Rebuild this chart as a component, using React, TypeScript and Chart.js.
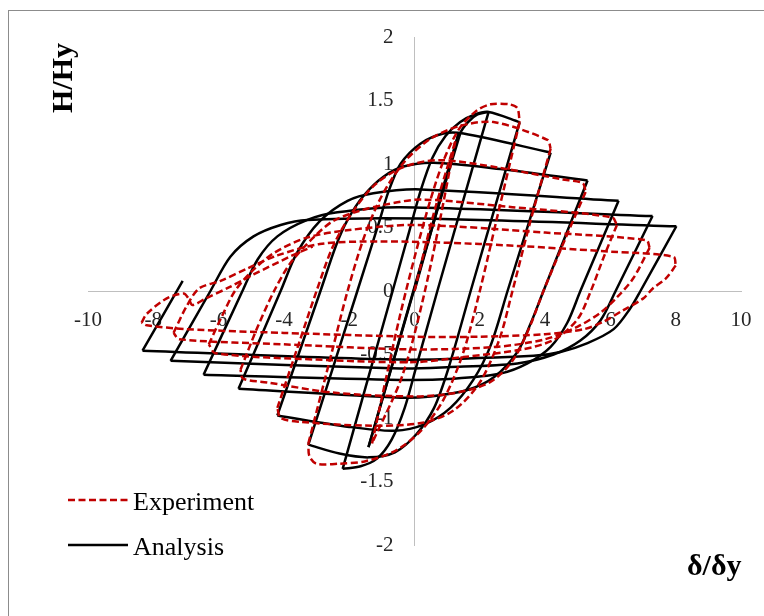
import React, { useEffect, useRef } from "react";
import { Chart, registerables } from "chart.js";

Chart.register(...registerables);

// ---- axis ticks ----
const xTickValues = [-10, -8, -6, -4, -2, 0, 2, 4, 6, 8, 10];
const xTickLabels = ["-10", "-8", "-6", "-4", "-2", "0", "2", "4", "6", "8", "10"];
const yTickValues = [-2, -1.5, -1, -0.5, 0, 0.5, 1, 1.5, 2];
const yTickLabels = ["-2", "-1.5", "-1", "-0.5", "0", "0.5", "1", "1.5", "2"];

const seriesNames = ["Experiment", "Analysis"];
const xTitle = "δ/δy";
const yTitle = "H/Hy";

// ---- Experiment (dashed red) : half-cycles, [δ/δy, H/Hy] ----
const experimentHalfCycles: [number, number][][] = [
  [[0, 0], [0.6, 0.62], [1.25, 1.18]],
  [[1.25, 1.18], [0.45, 0.15], [-0.35, -0.65], [-1.3, -1.2]],
  [[-1.3, -1.2], [-0.45, -0.2], [0.3, 0.55], [0.85, 1.0], [1.35, 1.27], [1.9, 1.42], [2.33, 1.47], [2.9, 1.47], [3.15, 1.44], [3.22, 1.33]],
  [[3.22, 1.33], [2.55, 0.6], [2.0, 0], [1.5, -0.48], [0.9, -0.85], [0.2, -1.1], [-0.6, -1.26], [-1.5, -1.34], [-2.3, -1.36], [-3.0, -1.36], [-3.22, -1.3], [-3.25, -1.2]],
  [[-3.25, -1.2], [-2.5, -0.45], [-2.05, 0], [-1.55, 0.42], [-1.0, 0.75], [-0.3, 1.02], [0.5, 1.2], [1.4, 1.3], [2.42, 1.33], [4.07, 1.19], [4.17, 1.12]],
  [[4.17, 1.12], [3.55, 0.55], [3.0, 0], [2.6, -0.38], [2.0, -0.72], [1.2, -0.94], [0.2, -1.04], [-1.5, -1.06], [-3.5, -1.03], [-4.1, -1.0], [-4.2, -0.92]],
  [[-4.2, -0.92], [-3.55, -0.42], [-3.0, 0], [-2.5, 0.35], [-1.9, 0.62], [-1.2, 0.84], [-0.3, 0.98], [0.8, 1.03], [2.6, 0.97], [4.5, 0.88], [5.15, 0.85], [5.24, 0.78]],
  [[5.24, 0.78], [4.6, 0.4], [3.95, 0], [3.5, -0.3], [3.0, -0.55], [2.3, -0.72], [1.3, -0.8], [0, -0.83], [-2.5, -0.8], [-4.5, -0.72], [-5.25, -0.69], [-5.33, -0.62]],
  [[-5.33, -0.62], [-4.8, -0.28], [-4.3, 0], [-3.8, 0.22], [-3.1, 0.42], [-2.5, 0.55], [-1.7, 0.63], [-0.9, 0.68], [0.2, 0.72], [3, 0.66], [6.05, 0.58], [6.2, 0.52]],
  [[6.2, 0.52], [5.8, 0.27], [5.4, 0], [5.0, -0.22], [4.3, -0.38], [3.3, -0.46], [1.5, -0.52], [0, -0.56], [-3, -0.54], [-6.1, -0.49], [-6.3, -0.42]],
  [[-6.3, -0.42], [-5.9, -0.2], [-5.5, 0], [-5.0, 0.15], [-4.3, 0.3], [-3.3, 0.42], [-2, 0.48], [0, 0.52], [4, 0.46], [7.1, 0.4], [7.2, 0.34]],
  [[7.2, 0.34], [6.7, 0.1], [6.2, -0.05], [5.7, -0.17], [5.0, -0.28], [4.0, -0.38], [2.5, -0.44], [0, -0.46], [-4, -0.42], [-7.2, -0.38], [-7.38, -0.33]],
  [[-7.38, -0.33], [-7.0, -0.13], [-6.6, 0.02], [-5.94, 0.08], [-5.1, 0.18], [-4.2, 0.28], [-2.9, 0.37], [-1.0, 0.39], [2, 0.37], [6, 0.31], [7.93, 0.27], [8.0, 0.2]],
  [[8.0, 0.2], [7.7, 0.1], [7.3, 0.02], [7.0, -0.06], [6.4, -0.15], [5.8, -0.24], [5.2, -0.3], [4.0, -0.34], [2.0, -0.36], [0, -0.36], [-4, -0.33], [-7.0, -0.3], [-8.2, -0.27], [-8.36, -0.25]],
  [[-8.36, -0.25], [-8.2, -0.18], [-7.6, -0.06], [-7.07, -0.02], [-6.92, -0.06], [-6.8, -0.11], [-6.4, -0.06], [-5.67, 0.03], [-4.93, 0.13], [-3.74, 0.28], [-3.12, 0.35]],
];

// ---- Analysis (solid black) : half-cycles, [δ/δy, H/Hy] ----
const analysisHalfCycles: [number, number][][] = [
  [[0, 0], [1.35, 1.24]],
  [[1.35, 1.24], [-1.41, -1.23]],
  [[-1.41, -1.23], [1.4, 1.24], [1.64, 1.33], [1.93, 1.39], [2.27, 1.41]],
  [[2.27, 1.41], [0.7, 0], [0.05, -0.6], [-0.3, -0.92], [-0.7, -1.17], [-1.15, -1.32], [-1.65, -1.38], [-2.2, -1.4]],
  [[-2.2, -1.4], [-0.67, 0], [-0.15, 0.48], [0.2, 0.8], [0.55, 1.05], [0.95, 1.22], [1.4, 1.33], [1.85, 1.39], [2.27, 1.41], [3.22, 1.33]],
  [[3.22, 1.33], [1.72, 0], [1.05, -0.6], [0.6, -0.92], [0.05, -1.13], [-0.6, -1.27], [-1.4, -1.31], [-2.3, -1.28], [-3.25, -1.21]],
  [[-3.25, -1.21], [-1.75, 0], [-1.1, 0.53], [-0.8, 0.78], [-0.43, 1.0], [0.18, 1.16], [0.89, 1.24], [1.5, 1.24], [4.17, 1.09]],
  [[4.17, 1.09], [2.85, 0], [2.33, -0.43], [1.8, -0.7], [1.1, -0.92], [0.3, -1.05], [-0.6, -1.1], [-2.0, -1.07], [-4.2, -0.98]],
  [[-4.2, -0.98], [-2.88, 0], [-2.4, 0.36], [-2.05, 0.56], [-1.56, 0.75], [-0.95, 0.9], [-0.34, 0.98], [0.58, 1.01], [2.63, 0.96], [5.3, 0.87]],
  [[5.3, 0.87], [3.95, 0], [3.55, -0.26], [3.15, -0.48], [2.43, -0.68], [1.62, -0.78], [0.5, -0.83], [-0.43, -0.84], [-5.39, -0.77]],
  [[-5.39, -0.77], [-4.1, 0], [-3.6, 0.3], [-2.9, 0.55], [-2.05, 0.71], [-1.26, 0.77], [0.18, 0.8], [6.25, 0.71]],
  [[6.25, 0.71], [5.08, 0], [4.68, -0.25], [4.17, -0.44], [3.46, -0.57], [2.63, -0.65], [1.2, -0.69], [-0.43, -0.7], [-6.46, -0.66]],
  [[-6.46, -0.66], [-5.27, 0], [-4.8, 0.25], [-4.2, 0.43], [-3.28, 0.56], [-2.36, 0.62], [-0.43, 0.66], [7.29, 0.59]],
  [[7.29, 0.59], [6.16, 0], [5.7, -0.23], [5.08, -0.39], [4.26, -0.5], [3.15, -0.57], [1.0, -0.6], [-0.43, -0.61], [-7.47, -0.55]],
  [[-7.47, -0.55], [-6.25, 0], [-5.64, 0.27], [-4.93, 0.43], [-4.1, 0.52], [-3.28, 0.56], [0.18, 0.57], [8.02, 0.51]],
  [[8.02, 0.51], [6.92, 0], [6.6, -0.14], [6.1, -0.3], [5.3, -0.41], [4.47, -0.48], [3.65, -0.51], [-0.43, -0.54], [-8.33, -0.47]],
  [[-8.33, -0.47], [-7.1, 0.08]],
];

const RED = "#c00000";
const BLACK = "#000000";
const SERIF = '"Liberation Serif", "Times New Roman", serif';

const overlayPlugin = {
  id: "overlayTexts",
  afterDraw(chart: any) {
    const ctx: CanvasRenderingContext2D = chart.ctx;
    ctx.save();
    // legend
    ctx.lineWidth = 2.5;
    ctx.strokeStyle = RED;
    ctx.setLineDash([7, 3.5]);
    ctx.beginPath();
    ctx.moveTo(59, 489);
    ctx.lineTo(119, 489);
    ctx.stroke();
    ctx.setLineDash([]);
    ctx.strokeStyle = BLACK;
    ctx.beginPath();
    ctx.moveTo(59, 534);
    ctx.lineTo(119, 534);
    ctx.stroke();
    ctx.fillStyle = "#000";
    ctx.font = `26px ${SERIF}`;
    ctx.textAlign = "left";
    ctx.textBaseline = "alphabetic";
    ctx.fillText(seriesNames[0], 124, 499);
    ctx.fillText(seriesNames[1], 124, 544);
    // axis titles
    ctx.font = `bold 30px ${SERIF}`;
    ctx.fillText(xTitle, 678, 564);
    ctx.translate(63, 67);
    ctx.rotate(-Math.PI / 2);
    ctx.textAlign = "center";
    ctx.fillText(yTitle, 0, 0);
    ctx.restore();
  },
};

export default function App() {
  const ref = useRef<HTMLCanvasElement>(null);
  useEffect(() => {
    if (!ref.current) return;
    const datasets: any[] = [];
    experimentHalfCycles.forEach((seg) =>
      datasets.push({
        label: seriesNames[0],
        data: seg.map(([x, y]) => ({ x, y })),
        borderColor: RED,
        backgroundColor: RED,
        borderWidth: 2.5,
        borderDash: [7, 3.5],
        showLine: true,
        pointRadius: 0,
        tension: 0.3,
        fill: false,
      })
    );
    analysisHalfCycles.forEach((seg) =>
      datasets.push({
        label: seriesNames[1],
        data: seg.map(([x, y]) => ({ x, y })),
        borderColor: BLACK,
        backgroundColor: BLACK,
        borderWidth: 2.5,
        showLine: true,
        pointRadius: 0,
        tension: 0.3,
        fill: false,
      })
    );
    const tickFont = { family: SERIF, size: 21 };
    const chart = new Chart(ref.current, {
      type: "scatter",
      data: { datasets },
      options: {
        animation: false,
        responsive: false,
        layout: { padding: { left: 79, right: 38, top: 26, bottom: 86 } },
        plugins: { legend: { display: false }, tooltip: { enabled: false } },
        scales: {
          x: {
            type: "linear",
            position: "center",
            min: -10,
            max: 10,
            grid: { display: false },
            border: { display: true, color: "#bfbfbf", width: 1 },
            afterBuildTicks: (s: any) => {
              s.ticks = xTickValues.map((v) => ({ value: v }));
            },
            afterFit: (s: any) => {
              s.height = 0;
            },
            ticks: {
              padding: 9,
              font: tickFont,
              color: "#262626",
              maxRotation: 0,
              autoSkip: false,
              callback: (v: any) => xTickLabels[xTickValues.indexOf(Number(v))],
            },
          },
          y: {
            type: "linear",
            position: "center",
            min: -2,
            max: 2,
            grid: { display: false },
            border: { display: true, color: "#bfbfbf", width: 1 },
            afterBuildTicks: (s: any) => {
              s.ticks = yTickValues.map((v) => ({ value: v }));
            },
            afterFit: (s: any) => {
              s.width = 0;
            },
            ticks: {
              padding: 13,
              font: tickFont,
              color: "#262626",
              autoSkip: false,
              callback: (v: any) => yTickLabels[yTickValues.indexOf(Number(v))],
            },
          },
        },
      } as any,
      plugins: [overlayPlugin],
    });
    return () => chart.destroy();
  }, []);
  return (
    <div
      style={{
        position: "fixed",
        left: 8,
        top: 10,
        width: 770,
        height: 620,
        border: "1px solid #8c8c8c",
        background: "#fff",
      }}
    >
      <canvas ref={ref} width={770} height={620} style={{ display: "block" }} />
    </div>
  );
}
